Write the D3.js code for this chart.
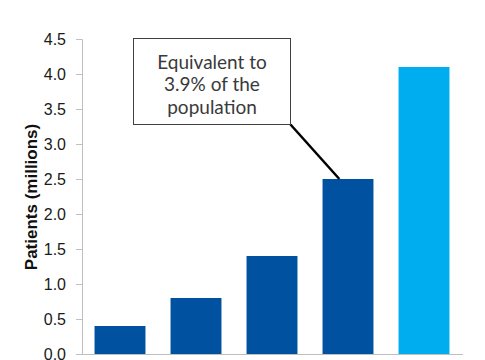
<!DOCTYPE html>
<html>
<head>
<meta charset="utf-8">
<script src="https://cdn.jsdelivr.net/npm/d3@7"></script>
<style>
  body { margin: 0; background: #fff; }
  svg { display: block; }
</style>
</head>
<body>
<div id="myChart"></div>
<script>
// chart data
var categories = ["A", "B", "C", "D", "E"];
var patients = [0.4, 0.8, 1.4, 2.5, 4.1];
var barColors = ["#0052a1", "#0052a1", "#0052a1", "#0052a1", "#00adef"];
var yTicks = [0, 0.5, 1, 1.5, 2, 2.5, 3, 3.5, 4, 4.5];
var noteLines = ["Equivalent to", "3.9% of the", "population"];
var noteIndex = 3; // bar the callout points at

var width = 485, height = 360;
var margin = { top: 39, right: 23, bottom: 6, left: 82 };

var svg = d3.select("#myChart")
    .append("svg")
    .attr("width", width)
    .attr("height", height);

//Set ranges
var x = d3.scaleBand()
    .domain(categories)
    .range([margin.left, width - margin.right])
    .paddingInner(0.33)
    .paddingOuter(0.165);

var y = d3.scaleLinear()
    .domain([0, 4.5])
    .range([height - margin.bottom, margin.top]);

//Bars
svg.selectAll(".bar")
    .data(patients)
    .enter().append("rect")
    .attr("class", "bar")
    .attr("x", function (d, i) { return x(categories[i]); })
    .attr("y", function (d) { return y(d); })
    .attr("width", x.bandwidth())
    .attr("height", function (d) { return y(0) - y(d); })
    .attr("fill", function (d, i) { return barColors[i]; });

//Y axis
var yAxis = svg.append("g")
    .attr("transform", "translate(" + margin.left + ",0)")
    .call(d3.axisLeft(y)
        .tickValues(yTicks)
        .tickSize(6)
        .tickPadding(10)
        .tickFormat(d3.format(".1f")));
yAxis.select(".domain").attr("stroke", "#bfbfbf").attr("stroke-width", 1);
yAxis.selectAll(".tick line").attr("stroke", "#bfbfbf");
yAxis.selectAll("text")
    .attr("fill", "#1a1a1a")
    .style("font-family", "Liberation Sans, Arial, sans-serif")
    .style("font-size", "16px");

//X baseline
svg.append("line")
    .attr("x1", margin.left)
    .attr("x2", width - margin.right + 1)
    .attr("y1", y(0) + 0.5)
    .attr("y2", y(0) + 0.5)
    .attr("stroke", "#bfbfbf");

//Y axis title
svg.append("text")
    .attr("transform", "translate(37," + 197 + ") rotate(-90)")
    .attr("text-anchor", "middle")
    .style("font-family", "Liberation Sans, Arial, sans-serif")
    .style("font-weight", "bold")
    .style("font-size", "17px")
    .attr("fill", "#111")
    .text("Patients (millions)");

//Callout box
var box = { x: 133.5, y: 38.5, w: 157, h: 86 };
var target = patients[noteIndex];
svg.append("line")
    .attr("x1", box.x + box.w)
    .attr("y1", box.y + box.h)
    .attr("x2", x(categories[noteIndex]) + x.bandwidth() * 0.33)
    .attr("y2", y(target))
    .attr("stroke", "#000")
    .attr("stroke-width", 2.5);

svg.append("rect")
    .attr("x", box.x)
    .attr("y", box.y)
    .attr("width", box.w)
    .attr("height", box.h)
    .attr("fill", "#fff")
    .attr("stroke", "#404040")
    .attr("stroke-width", 1);

svg.append("text")
    .attr("text-anchor", "middle")
    .style("font-family", "Lato, sans-serif")
    .style("font-size", "19px")
    .attr("fill", "#3a3a3a")
    .selectAll("tspan")
    .data(noteLines)
    .enter().append("tspan")
    .attr("x", box.x + box.w / 2)
    .attr("y", function (d, i) { return box.y + 30 + i * 22.5; })
    .text(function (d) { return d; });
</script>
</body>
</html>
